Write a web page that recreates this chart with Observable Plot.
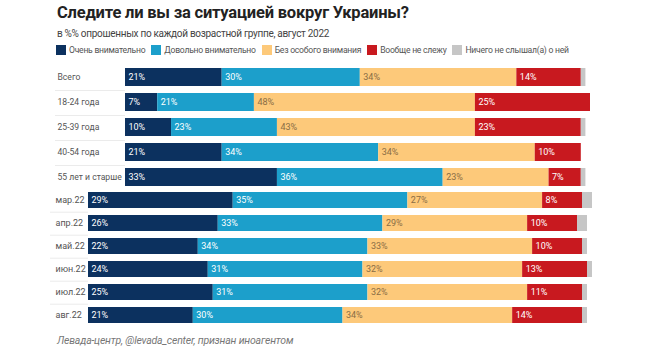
<!DOCTYPE html>
<html>
<head>
<meta charset="utf-8">
<script src="https://cdn.jsdelivr.net/npm/d3@7"></script>
<script src="https://cdn.jsdelivr.net/npm/@observablehq/plot@0.6"></script>
<style>
  body { margin: 0; background: #fff; font-family: Roboto, "Noto Sans", sans-serif; }
  #wrap { position: relative; width: 650px; height: 350px; overflow: hidden; }
  .abs { position: absolute; }
  #title { left: 57px; top: 3px; font-size: 16.5px; font-weight: 700; color: #222; letter-spacing: -0.2px; white-space: nowrap; }
  #subtitle { left: 57px; top: 28px; font-size: 10px; color: #444; white-space: nowrap; letter-spacing: -0.3px; }
  #legend { left: 56px; top: 45px; display: flex; font-size: 8.6px; color: #555; white-space: nowrap; letter-spacing: -0.25px; }
  #legend .item { display: flex; align-items: center; margin-right: 6px; }
  #legend .sw { width: 10px; height: 10px; margin-right: 3px; }
  #caption { left: 57px; top: 334px; font-size: 10.5px; font-style: italic; color: #777; white-space: nowrap; letter-spacing: -0.2px; }
  #top { left: 0; top: 63px; }
  #bottom { left: 0; top: 190px; }
</style>
</head>
<body>
<div id="wrap">
  <div id="title" class="abs">Следите ли вы за ситуацией вокруг Украины?</div>
  <div id="subtitle" class="abs">в %% опрошенных по каждой возрастной группе, август 2022</div>
  <div id="legend" class="abs"></div>
  <div id="top" class="abs"></div>
  <div id="bottom" class="abs"></div>
  <div id="caption" class="abs">Левада-центр, @levada_center, признан иноагентом</div>
</div>
<script>
const categories = ["Очень внимательно", "Довольно внимательно", "Без особого внимания", "Вообще не слежу", "Ничего не слышал(а) о ней"];
const colors = ["#0c315f", "#1c9fcb", "#fdc97a", "#c8191f", "#c6c6c6"];

const ageGroups = ["Всего", "18-24 года", "25-39 года", "40-54 года", "55 лет и старше"];
const ageVery =     [21, 7, 10, 21, 33];
const ageFairly =   [30, 21, 23, 34, 36];
const ageLittle =   [34, 48, 43, 34, 23];
const ageNot =      [14, 25, 23, 10, 7];
const ageNever =    [1, 0, 1, 0, 1];

const months = ["мар.22", "апр.22", "май.22", "июн.22", "июл.22", "авг.22"];
const monVery =     [29, 26, 22, 24, 25, 21];
const monFairly =   [35, 33, 34, 31, 31, 30];
const monLittle =   [27, 29, 33, 32, 32, 34];
const monNot =      [8, 10, 10, 13, 11, 14];
const monNever =    [2, 2, 1, 1, 1, 1];

function toRows(rows, series) {
  const out = [];
  rows.forEach((r, i) => {
    series.forEach((s, j) => {
      out.push({row: r, cat: categories[j], value: s[i]});
    });
  });
  return out;
}

const ageData = toRows(ageGroups, [ageVery, ageFairly, ageLittle, ageNot, ageNever]);
const monData = toRows(months, [monVery, monFairly, monLittle, monNot, monNever]);

// legend
const leg = document.getElementById("legend");
categories.forEach((c, i) => {
  const it = document.createElement("div");
  it.className = "item";
  it.innerHTML = `<span class="sw" style="background:${colors[i]}"></span><span>${c}</span>`;
  leg.appendChild(it);
});

function panel(data, rows, opts) {
  const labelColor = c => c === categories[2] ? "#8a6d45" : "#ffffff";
  const n = rows.length;
  const step = (opts.height) / (n - opts.pi + 2 * opts.po);
  const frameW = 650 - opts.marginLeft - opts.marginRight;
  return Plot.plot({
    width: 650,
    height: opts.height,
    marginLeft: opts.marginLeft,
    marginRight: opts.marginRight,
    marginTop: 0,
    marginBottom: 0,
    style: {background: "transparent", fontFamily: "Roboto, sans-serif"},
    x: {domain: [0, opts.xmax], axis: null},
    y: {domain: rows, paddingInner: opts.pi, paddingOuter: opts.po, label: null},
    color: {domain: categories, range: colors},
    marks: [
      Plot.ruleY(rows.slice(0, -1), {
        y: d => d, dy: step / 2, stroke: "#ebebeb", strokeWidth: 1,
        insetLeft: -(opts.marginLeft - opts.lineStart), insetRight: frameW
      }),
      Plot.barX(data, Plot.stackX({x: "value", y: "row", fill: "cat", z: "cat", order: categories})),
      Plot.text(data.filter(d => d.value > 0 && d.cat !== categories[4]), Plot.stackX1({
        x: "value", y: "row", z: "cat", order: categories,
        text: d => d.value + "%",
        textAnchor: "start", dx: 3,
        fill: d => labelColor(d.cat),
        fontWeight: d => d.cat === categories[2] ? 400 : 700,
        fontSize: 9, letterSpacing: -0.3
      })),
      Plot.axisY({
        tickSize: 0, tickPadding: 0, textAnchor: "start", dx: opts.labelDx,
        fontSize: opts.labelSize, letterSpacing: opts.labelLs, fill: "#555", label: null
      })
    ]
  });
}

document.getElementById("top").appendChild(panel(ageData, ageGroups, {
  height: 127, marginLeft: 125, marginRight: 60, xmax: 101, pi: 0.3, po: 0.1, labelDx: -68, lineStart: 55,
  labelSize: 8.6, labelLs: -0.4
}));
document.getElementById("bottom").appendChild(panel(monData, months, {
  height: 135, marginLeft: 88, marginRight: 58, xmax: 101, pi: 0.32, po: 0.05, labelDx: -33, lineStart: 50,
  labelSize: 9, labelLs: -0.25
}));
</script>
</body>
</html>
